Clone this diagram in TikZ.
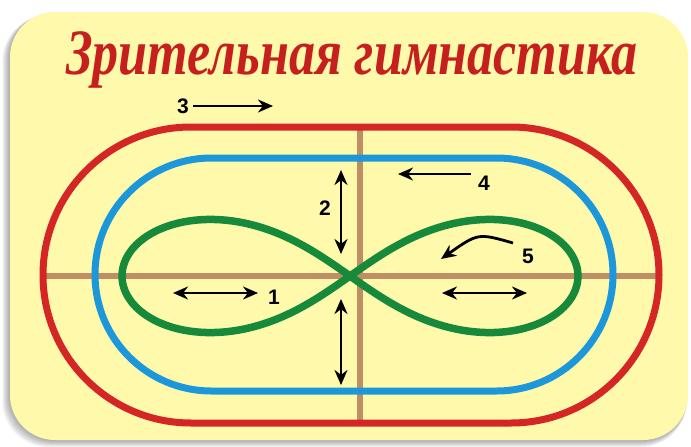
\documentclass[tikz,border=0pt]{standalone}
\usepackage{fontspec}
\setmainfont{Liberation Serif}
\setsansfont{Liberation Sans}
\usetikzlibrary{arrows.meta, shapes.misc}
\definecolor{panelyellow}{RGB}{255, 249, 172}
\definecolor{trackred}{RGB}{212, 38, 36}
\definecolor{trackblue}{RGB}{28, 152, 218}
\definecolor{eightgreen}{RGB}{22, 138, 58}
\definecolor{crossbrown}{RGB}{192, 142, 100}
\definecolor{titlered}{RGB}{198, 32, 30}

\begin{document}
\begin{tikzpicture}[x=1pt, y=-1pt,
        % one unit is one pixel of the sheet, y runs downwards
        track/.style={draw, rounded rectangle, line width=7pt, inner sep=0pt},
        cross/.style={crossbrown, line width=5.5pt},
        eight/.style={eightgreen, line width=7.5pt},
        arr/.style={-{Stealth[length=15pt, width=13pt]}, line width=2.8pt, black},
        dbl/.style={{Stealth[length=15pt, width=13pt]}-{Stealth[length=15pt, width=13pt]}, line width=2.8pt, black},
        num/.style={font=\sffamily\bfseries\fontsize{21}{21}\selectfont, inner sep=0pt},
        title/.style={font=\bfseries\itshape\fontsize{54}{54}\selectfont, text=titlered, inner sep=0pt}
    ]

    \useasboundingbox (0, 0) rectangle (691, 447);

    % Soft shadow and the yellow sheet
    \foreach \i in {1, ..., 7} {
        \fill[black, opacity=0.05, rounded corners=46]
            (10-\i*1.1, 12+\i*0.5) rectangle (688-\i*0.2, 440+\i*1.0);
    }
    \fill[panelyellow, rounded corners=45] (10, 12) rectangle (688, 440);

    \node[title] (title) at (352, 60) {\scalebox{0.965}[1.2]{Зрительная гимнастика}};

    % Axes of the cross
    \draw[cross] (360, 127) -- (360, 423);
    \draw[cross] (43, 276) -- (659, 276);

    % Tracks
    \node[track, draw=trackred, minimum width=616, minimum height=296] (outer) at (351, 275) {};
    \node[track, draw=trackblue, minimum width=518, minimum height=233] (inner) at (354, 274.5) {};

    % Figure eight
    \draw[eight] plot[domain=0:360, samples=181, smooth cycle, variable=\t]
        ({350 + 228*cos(\t)/(1+sin(\t)^2)}, {276 + 160*sin(\t)*cos(\t)/(1+sin(\t)^2)});

    % Labels and arrow ends
    \node[num] (n3) at (183, 106) {3};
    \node[num] (n4) at (484, 183) {4};
    \node[num] (n2) at (325, 208) {2};
    \node[num] (n1) at (274, 297) {1};
    \node[num] (n5) at (528, 256) {5};

    \coordinate (e3) at (273, 106);
    \coordinate (s4) at (471, 174);
    \coordinate (e4) at (398, 174);
    \coordinate (t2) at (341, 170);
    \coordinate (b2) at (341, 254);
    \coordinate (t6) at (341, 299);
    \coordinate (b6) at (341, 385);
    \coordinate (l1) at (173, 293);
    \coordinate (r1) at (258, 293);
    \coordinate (l7) at (442, 293);
    \coordinate (r7) at (527, 293);
    \coordinate (s5) at (513, 243);
    \coordinate (e5) at (441, 259);

    \draw[arr] (n3.east) ++(4, 0) -- (e3);
    \draw[arr] (s4) -- (e4);
    \draw[dbl] (t2) -- (b2);
    \draw[dbl] (t6) -- (b6);
    \draw[dbl] (l1) -- (r1);
    \draw[dbl] (l7) -- (r7);
    \draw[arr] (s5) .. controls (478, 233) .. (e5);

\end{tikzpicture}
\end{document}
